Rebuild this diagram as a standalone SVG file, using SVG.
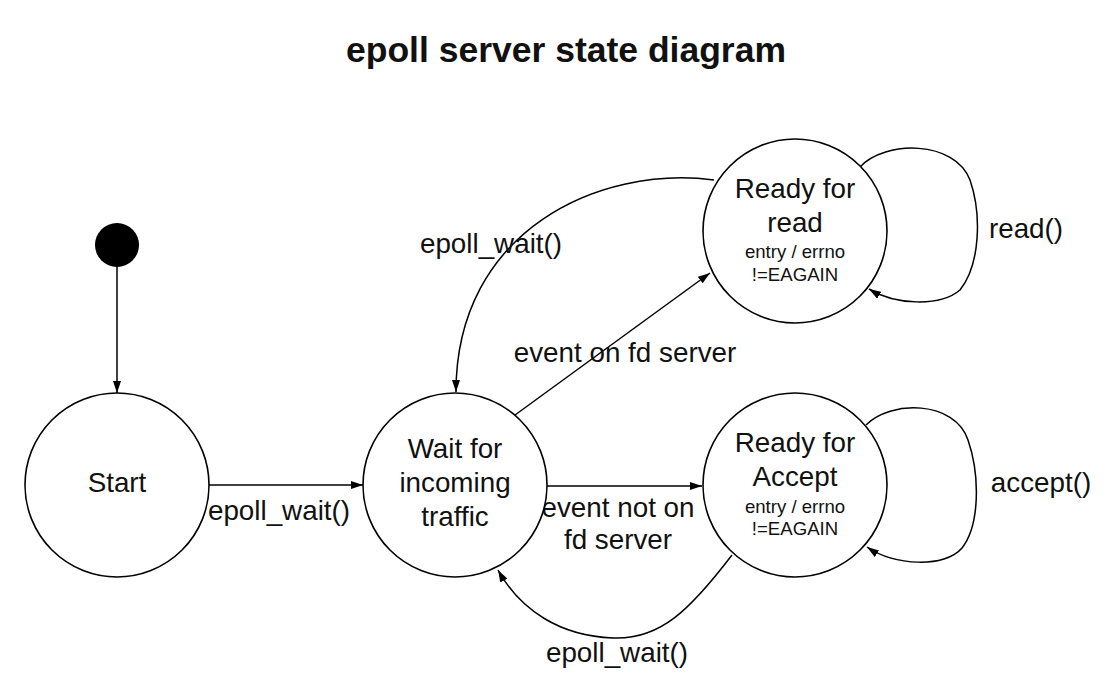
<svg xmlns="http://www.w3.org/2000/svg" width="1111" height="676" viewBox="0 0 1111 676">
<style>
.st{fill:#fff;stroke:#000;stroke-width:1.6}
.ed{fill:none;stroke:#000;stroke-width:1.5}
text{font-family:"Liberation Sans",Arial,sans-serif;fill:#111;text-anchor:middle}
.lb{font-size:27.8px}
.sm{font-size:18.6px}
.tt{font-size:35.5px;font-weight:bold}
</style>
<defs>
<marker id="ar" viewBox="0 0 12 8" refX="12" refY="4" markerWidth="12" markerHeight="8" markerUnits="userSpaceOnUse" orient="auto">
<path d="M0,0 L12,4 L0,8 Z" fill="#000"/>
</marker>
</defs>
<rect width="1111" height="676" fill="#fff"/>
<text class="tt" x="566" y="62">epoll server state diagram</text>
<g id="connectors">
<path class="ed" d="M117,267 L117,393" marker-end="url(#ar)"/>
<path class="ed" d="M208,485 L363,485" marker-end="url(#ar)"/>
<path class="ed" d="M547,486 L702,486" marker-end="url(#ar)"/>
<path class="ed" d="M515,415 L710,273" marker-end="url(#ar)"/>
<path class="ed" d="M714,180 C600,165 456,230 456,392" marker-end="url(#ar)"/>
<path class="ed" d="M732,555 C690,610 660,640 613,638 C560,636 520,610 498,570" marker-end="url(#ar)"/>
<path class="ed" d="M860,167 C885,140 955,140 970,180 C982,215 980,265 960,290 C940,307 895,305 869,289" marker-end="url(#ar)"/>
<path class="ed" d="M866,425 C890,400 955,400 968,440 C980,475 980,525 962,548 C945,568 895,566 867,547" marker-end="url(#ar)"/>
<text class="lb" x="279" y="520">epoll_wait()</text>
<text class="lb" x="491" y="253">epoll_wait()</text>
<text class="lb" x="625" y="362">event on fd server</text>
<text class="lb" x="618" y="517">event not on</text>
<text class="lb" x="618" y="549">fd server</text>
<text class="lb" x="617" y="662">epoll_wait()</text>
<text class="lb" x="1026" y="238">read()</text>
<text class="lb" x="1041" y="492">accept()</text>
</g>
<g id="initial">
<circle cx="117" cy="245" r="22" fill="#000"/>
</g>
<g id="start">
<circle class="st" cx="117" cy="485" r="92"/>
<text class="lb" x="117" y="492">Start</text>
</g>
<g id="wait">
<circle class="st" cx="455" cy="485" r="92"/>
<text class="lb" x="455" y="458">Wait for</text>
<text class="lb" x="455" y="492">incoming</text>
<text class="lb" x="455" y="526">traffic</text>
</g>
<g id="read">
<circle class="st" cx="795" cy="231" r="92"/>
<text class="lb" x="795" y="198">Ready for</text>
<text class="lb" x="795" y="232">read</text>
<text class="sm" x="795" y="258">entry / errno</text>
<text class="sm" x="795" y="281">!=EAGAIN</text>
</g>
<g id="accept">
<circle class="st" cx="795" cy="485" r="92"/>
<text class="lb" x="795" y="452">Ready for</text>
<text class="lb" x="795" y="486">Accept</text>
<text class="sm" x="795" y="513">entry / errno</text>
<text class="sm" x="795" y="535">!=EAGAIN</text>
</g>
</svg>
